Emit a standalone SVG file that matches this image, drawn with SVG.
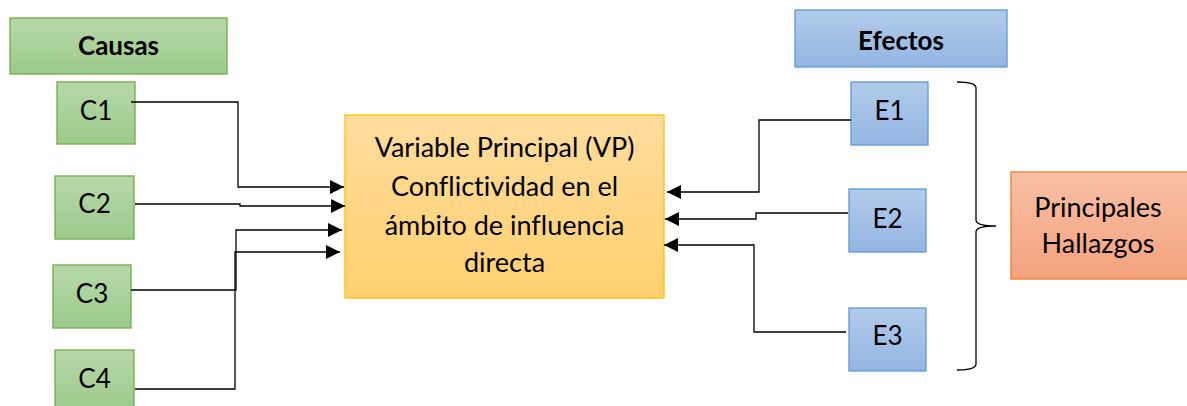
<svg xmlns="http://www.w3.org/2000/svg" width="1187" height="406" viewBox="0 0 1187 406">
<defs>
<linearGradient id="gG" x1="0" y1="0" x2="0" y2="1"><stop offset="0" stop-color="#B7D8AA"/><stop offset="1" stop-color="#9CCA8B"/></linearGradient>
<linearGradient id="gB" x1="0" y1="0" x2="0" y2="1"><stop offset="0" stop-color="#B2CBEA"/><stop offset="1" stop-color="#93B6E2"/></linearGradient>
<linearGradient id="gO" x1="0" y1="0" x2="0" y2="1"><stop offset="0" stop-color="#F8C0A5"/><stop offset="1" stop-color="#F4A27D"/></linearGradient>
<linearGradient id="gY" x1="0" y1="0" x2="0" y2="1"><stop offset="0" stop-color="#FFDD9E"/><stop offset="1" stop-color="#FFD06F"/></linearGradient>
<marker id="ah" markerWidth="14" markerHeight="14" refX="14" refY="7" orient="auto" markerUnits="userSpaceOnUse"><path d="M0,0 L14,7 L0,14 Z" fill="#000"/></marker>
</defs>
<style>
.g{fill:url(#gG);stroke:#70AD47;stroke-width:1.3}
.b{fill:url(#gB);stroke:#5B9BD5;stroke-width:1.3}
.o{fill:url(#gO);stroke:#ED7D31;stroke-width:1.3}
.y{fill:url(#gY);stroke:#FFC000;stroke-width:1.3}
text{font-family:Lato,"Liberation Sans",sans-serif;fill:#000;text-anchor:middle;font-variant-ligatures:none}
.t{font-size:27px}
.s{font-size:26px}
.h{font-size:26px;font-weight:bold}
.c{stroke:#000;stroke-width:1.3;fill:none}
</style>
<g id="causas"><rect class="g" x="10" y="18" width="217" height="56"/><text class="h" x="118.5" y="55">Causas</text></g>
<g id="c1"><rect class="g" x="57" y="82" width="78" height="62"/><text class="s" x="96" y="120">C1</text></g>
<g id="c2"><rect class="g" x="55" y="176" width="79" height="63"/><text class="s" x="94.5" y="213">C2</text></g>
<g id="c3"><rect class="g" x="53" y="265" width="78" height="63"/><text class="s" x="92" y="303">C3</text></g>
<g id="c4"><rect class="g" x="55" y="350" width="79" height="62"/><text class="s" x="94.5" y="388">C4</text></g>
<g id="vp"><rect class="y" x="345" y="115" width="319" height="183"/>
<text class="t" x="504.5" y="157">Variable Principal (VP)</text>
<text class="t" x="504.5" y="196">Conflictividad en el</text>
<text class="t" x="504.5" y="235">ámbito de influencia</text>
<text class="t" x="504.5" y="272">directa</text></g>
<g id="efectos"><rect class="b" x="795" y="10" width="212" height="57"/><text class="h" x="901" y="50">Efectos</text></g>
<g id="e1"><rect class="b" x="851" y="82" width="77" height="63"/><text class="s" x="889.5" y="120">E1</text></g>
<g id="e2"><rect class="b" x="849" y="189" width="77" height="63"/><text class="s" x="887.5" y="228">E2</text></g>
<g id="e3"><rect class="b" x="849" y="308" width="77" height="63"/><text class="s" x="887.5" y="345">E3</text></g>
<g id="hallazgos"><rect class="o" x="1011" y="172" width="180" height="107"/>
<text class="t" x="1098" y="217">Principales</text>
<text class="t" x="1098" y="253">Hallazgos</text></g>
<g id="connectors">
<path class="c" marker-end="url(#ah)" d="M131,102 H238 V187 H344"/>
<path class="c" marker-end="url(#ah)" d="M135,204 H240 V206 H345"/>
<path class="c" marker-end="url(#ah)" d="M131,290 H236 V230 H342"/>
<path class="c" marker-end="url(#ah)" d="M135,389 H235 V252 H340"/>
<path class="c" marker-end="url(#ah)" d="M851,120 H759 V192 H667"/>
<path class="c" marker-end="url(#ah)" d="M848,213 H756 V219 H665"/>
<path class="c" marker-end="url(#ah)" d="M846,332 H754 V245 H664"/>
<path class="c" d="M957,82 Q976,82 976,88 V220 Q976,226 996,226 Q976,226 976,232 V364 Q976,370 957,370"/>
</g>
</svg>
